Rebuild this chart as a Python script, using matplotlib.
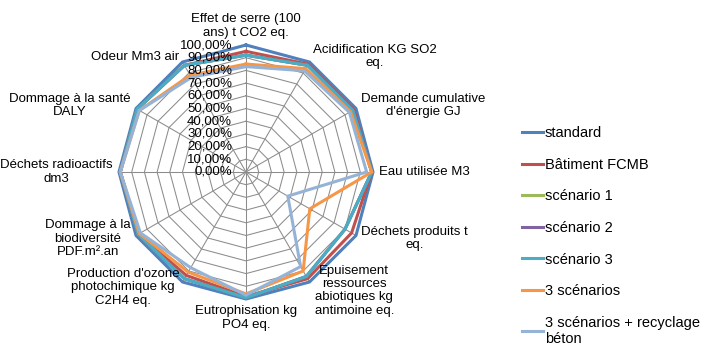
import numpy as np
import matplotlib
matplotlib.use('Agg')
import matplotlib.pyplot as plt

plt.rcParams['font.family'] = ['Liberation Sans', 'DejaVu Sans']

categories = [
    "Effet de serre (100\nans) t CO2 eq.",
    "Acidification KG SO2\neq.",
    "Demande cumulative\nd'énergie GJ",
    "Eau utilisée M3",
    "Déchets produits t\neq.",
    "Epuisement\nressources\nabiotiques kg\nantimoine eq.",
    "Eutrophisation kg\nPO4 eq.",
    "Production d'ozone\nphotochimique kg\nC2H4 eq.",
    "Dommage à la\nbiodiversité\nPDF.m².an",
    "Déchets radioactifs\ndm3",
    "Dommage à la santé\nDALY",
    "Odeur Mm3 air",
]

standard = [1.00, 1.00, 1.00, 1.00, 1.00, 1.00, 1.00, 1.00, 1.00, 1.00, 1.00, 1.00]
batiment_fcmb = [0.95, 0.98, 0.98, 0.99, 0.96, 0.97, 0.98, 0.94, 0.98, 0.99, 0.99, 0.97]
scenario_1 = [0.92, 0.97, 0.97, 0.99, 0.90, 0.95, 0.99, 0.97, 0.98, 0.99, 0.99, 0.97]
scenario_2 = [0.92, 0.97, 0.97, 0.99, 0.90, 0.95, 0.99, 0.97, 0.98, 0.99, 0.99, 0.97]
scenario_3 = [0.92, 0.97, 0.97, 0.99, 0.90, 0.95, 0.99, 0.97, 0.98, 0.99, 0.99, 0.97]
trois_scenarios = [0.85, 0.94, 0.95, 0.99, 0.58, 0.90, 0.96, 0.91, 0.97, 0.99, 0.97, 0.88]
recyclage_beton = [0.83, 0.92, 0.94, 0.95, 0.38, 0.86, 0.97, 0.87, 0.96, 0.99, 0.97, 0.86]

series_names = ["standard", "Bâtiment FCMB", "scénario 1", "scénario 2", "scénario 3",
                "3 scénarios", "3 scénarios + recyclage\nbéton"]
series_values = [standard, batiment_fcmb, scenario_1, scenario_2, scenario_3,
                 trois_scenarios, recyclage_beton]
colors = ["#4F81BD", "#C0504D", "#9BBB59", "#8064A2", "#4BACC6", "#F79646", "#95B3D7"]

tick_values = np.arange(0, 1.01, 0.1)
tick_labels = ["%d,00%%" % round(v * 100) for v in tick_values]

n = len(categories)
angles = np.linspace(0, 2 * np.pi, n, endpoint=False)
closed = np.append(angles, angles[0])

W, H = 706, 352
fig = plt.figure(figsize=(W / 100, H / 100), dpi=100)
cx, cy, rad = 246, 172, 127
ax = fig.add_axes([(cx - rad) / W, (H - cy - rad) / H, 2 * rad / W, 2 * rad / H],
                  projection='polar')
ax.set_theta_zero_location('N')
ax.set_theta_direction(-1)
ax.set_ylim(0, 1)
ax.grid(False)
ax.set_xticks([])
ax.set_yticks([])
ax.spines['polar'].set_visible(False)
ax.patch.set_alpha(0)

# spider web grid
grid_color = "#8C8C8C"
for r in tick_values[1:]:
    ax.plot(closed, [r] * (n + 1), color=grid_color, lw=0.75, clip_on=False, zorder=1)
for a in angles:
    ax.plot([a, a], [0, 1], color=grid_color, lw=0.75, clip_on=False, zorder=1)

for name, vals, c in zip(series_names, series_values, colors):
    v = np.append(vals, vals[0])
    ax.plot(closed, v, color=c, lw=2.2, label=name, clip_on=False, zorder=3,
            solid_joinstyle='miter')

# axis tick labels along the top spoke
for v, lab in zip(tick_values, tick_labels):
    ax.annotate(lab, xy=(0, v), xytext=(-10, 0), textcoords='offset points',
                ha='right', va='center', fontsize=9.5, zorder=4, annotation_clip=False)

# category labels
for a, lab in zip(angles, categories):
    deg = np.degrees(a) % 360
    r = 1.05
    if deg == 0:
        ha, va = 'center', 'bottom'
    elif deg == 180:
        ha, va = 'center', 'top'
    elif deg < 180:
        ha, va = 'left', 'center'
    else:
        ha, va = 'right', 'center'
    if abs(deg - 150) < 1:
        r = 1.08
    ax.text(a, r, lab, ha=ha, va=va, multialignment='center', fontsize=9.5,
            linespacing=1.15)

leg = fig.legend(loc='upper left', bbox_to_anchor=(521.5 / W, 1 - 126 / H),
                 frameon=False, fontsize=10.5, handlelength=1.45, handletextpad=0.15,
                 labelspacing=1.21, borderpad=0, borderaxespad=0)
for line in leg.get_lines():
    line.set_linewidth(2.2)

fig.savefig('out.png', dpi=100)
